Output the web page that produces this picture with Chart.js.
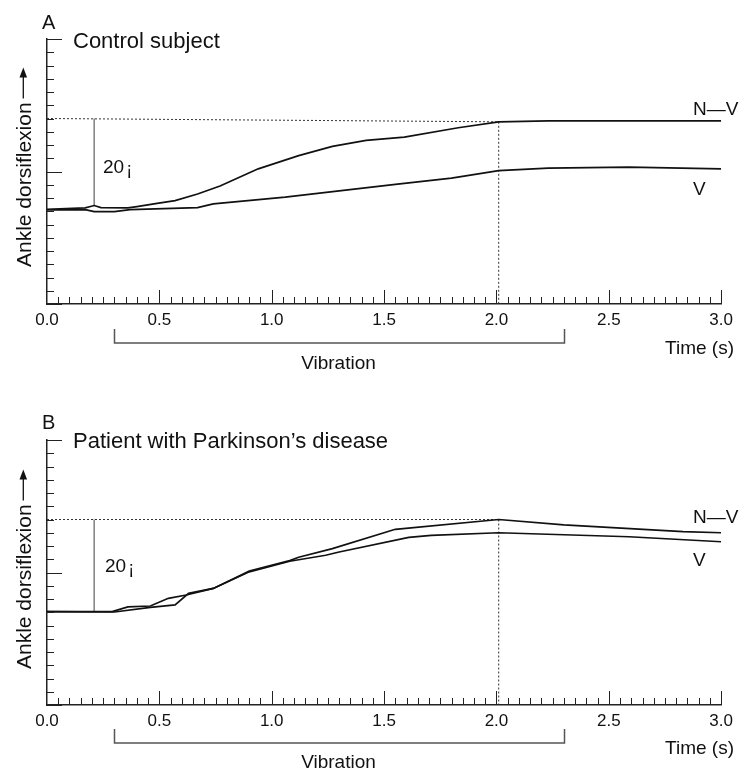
<!DOCTYPE html>
<html>
<head>
<meta charset="utf-8">
<script src="https://cdn.jsdelivr.net/npm/chart.js@4.4.0/dist/chart.umd.min.js"></script>
<style>
  html, body { margin: 0; padding: 0; background: #fff; }
  #wrap { position: relative; width: 739px; height: 772px; }
  canvas { position: absolute; left: 0; }
  #chartA { top: 0; }
  #chartB { top: 401px; }
</style>
</head>
<body>
<div id="wrap">
  <canvas id="chartA" width="739" height="401"></canvas>
  <canvas id="chartB" width="739" height="371"></canvas>
</div>
<script>
// --- data (time in s, ankle angle in axis-tick units) ---
const xTickValues = [0, 0.5, 1.0, 1.5, 2.0, 2.5, 3.0];
const xTickLabels = ['0.0', '0.5', '1.0', '1.5', '2.0', '2.5', '3.0'];

// A: control subject
const tA_nv = [0, 0.17, 0.21, 0.24, 0.36, 0.40, 0.49, 0.57, 0.67, 0.77, 0.94, 1.12, 1.27, 1.42, 1.59, 1.83, 2.01, 2.23, 3.0];
const vA_nv = [7.15, 7.25, 7.43, 7.28, 7.25, 7.35, 7.6, 7.8, 8.3, 8.9, 10.2, 11.2, 11.9, 12.35, 12.6, 13.3, 13.75, 13.82, 13.82];
const tA_v = [0, 0.17, 0.21, 0.30, 0.37, 0.67, 0.74, 1.06, 1.30, 1.56, 1.80, 2.01, 2.23, 2.59, 3.0];
const vA_v = [7.1, 7.12, 6.97, 6.97, 7.12, 7.28, 7.56, 8.06, 8.54, 9.05, 9.5, 10.07, 10.26, 10.33, 10.2];

// B: patient with Parkinson's disease
const tB_nv = [0, 0.29, 0.36, 0.46, 0.54, 0.62, 0.74, 0.90, 1.08, 1.12, 1.27, 1.55, 2.01, 2.30, 2.83, 3.0];
const vB_nv = [7.05, 7.05, 7.4, 7.47, 8.05, 8.3, 8.8, 10.1, 10.9, 11.15, 11.8, 13.26, 14.0, 13.6, 13.08, 13.0];
const tB_v = [0, 0.30, 0.46, 0.57, 0.63, 0.74, 0.90, 1.08, 1.24, 1.30, 1.61, 1.71, 2.01, 2.59, 3.0];
const vB_v = [7.05, 7.02, 7.37, 7.55, 8.43, 8.8, 10.05, 10.85, 11.3, 11.55, 12.65, 12.8, 13.0, 12.7, 12.32];

// dotted guides, 20 deg scale bar, vibration period
const markTime = 2.01;
const guideA = [14.0, 13.75];
const guideB = [14.0, 14.0];
const scaleBarTime = 0.21;
const scaleBarA = [14.0, 7.43];
const scaleBarB = [14.0, 7.05];
const vibration = [0.3, 2.3];

const FONT = '"Liberation Sans", Arial, Helvetica, sans-serif';
const INK = '#111';

function pts(ts, vs) {
  return ts.map((t, i) => ({ x: t, y: vs[i] }));
}

// ticks drawn inward, texts, bracket, y title
const panelDecor = {
  id: 'panelDecor',
  afterDraw(chart, args, o) {
    const ctx = chart.ctx;
    const xs = chart.scales.x, ys = chart.scales.y;
    const area = chart.chartArea;
    ctx.save();

    // inward ticks
    ctx.strokeStyle = '#222';
    ctx.lineWidth = 1;
    ctx.beginPath();
    for (let i = 1; i <= 60; i++) {
      const px = Math.round(xs.getPixelForValue(i * 0.05)) + 0.5;
      const len = i % 10 === 0 ? 14 : 7;
      ctx.moveTo(px, area.bottom);
      ctx.lineTo(px, area.bottom - len);
    }
    for (let j = 0; j <= 20; j++) {
      const py = Math.round(ys.getPixelForValue(j)) + 0.5;
      const len = j % 10 === 0 ? 15 : 7;
      ctx.moveTo(area.left, py);
      ctx.lineTo(area.left + len, py);
    }
    ctx.stroke();

    // vibration bracket
    const bx0 = Math.round(xs.getPixelForValue(vibration[0])) + 0.5;
    const bx1 = Math.round(xs.getPixelForValue(vibration[1])) + 0.5;
    ctx.strokeStyle = '#555';
    ctx.lineWidth = 1.5;
    ctx.beginPath();
    ctx.moveTo(bx0, o.bracketTop);
    ctx.lineTo(bx0, o.bracketBottom);
    ctx.lineTo(bx1, o.bracketBottom);
    ctx.lineTo(bx1, o.bracketTop);
    ctx.stroke();

    ctx.fillStyle = INK;
    ctx.textBaseline = 'alphabetic';

    // panel letter + title
    ctx.textAlign = 'left';
    ctx.font = '20px ' + FONT;
    ctx.fillText(o.letter, 42, o.letterY);
    ctx.font = '22px ' + FONT;
    ctx.fillText(o.title, 73, o.titleY);

    // trace labels
    ctx.font = '19px ' + FONT;
    o.labels.forEach(l => ctx.fillText(l.text, l.x, l.y));

    // 20 deg scale label
    ctx.font = '19px ' + FONT;
    ctx.fillText('20', o.scaleText[0], o.scaleText[1]);
    const w20 = ctx.measureText('20').width;
    ctx.font = '18px ' + FONT;
    ctx.fillText('¡', o.scaleText[0] + w20 + 2, o.scaleText[1] + 2);

    // axis texts
    ctx.font = '19px ' + FONT;
    ctx.textAlign = 'right';
    ctx.fillText('Time (s)', 734, o.timeY);
    ctx.textAlign = 'center';
    ctx.fillText('Vibration', (bx0 + bx1) / 2 - 1, o.vibY);

    // y title with arrow
    ctx.save();
    ctx.translate(31, o.yTitleBase);
    ctx.rotate(-Math.PI / 2);
    ctx.textAlign = 'left';
    ctx.font = '21px ' + FONT;
    const label = 'Ankle dorsiflexion';
    ctx.fillText(label, 0, 0);
    const w = ctx.measureText(label).width;
    ctx.strokeStyle = INK;
    ctx.lineWidth = 1.3;
    ctx.beginPath();
    ctx.moveTo(w + 4, -7.7);
    ctx.lineTo(w + 27, -7.7);
    ctx.stroke();
    ctx.beginPath();
    ctx.moveTo(w + 35, -7.7);
    ctx.lineTo(w + 25, -11.5);
    ctx.lineTo(w + 25, -3.9);
    ctx.closePath();
    ctx.fill();
    ctx.restore();

    ctx.restore();
  }
};

function makeChart(id, canvasH, series, guide, scaleBar, decor) {
  const trace = {
    type: 'line', pointRadius: 0, tension: 0,
    borderColor: INK, borderWidth: 1.7, fill: false
  };
  const dotted = {
    type: 'line', pointRadius: 0, tension: 0,
    borderColor: '#333', borderWidth: 1, borderDash: [2, 2], fill: false
  };
  return new Chart(document.getElementById(id), {
    type: 'line',
    data: {
      datasets: [
        { ...trace, label: 'N-V', data: pts(series[0], series[1]) },
        { ...trace, label: 'V', data: pts(series[2], series[3]) },
        { ...dotted, label: 'guide', data: pts([0, markTime], guide) },
        { ...dotted, label: 'mark', data: pts([markTime, markTime], [guide[1], 0]) },
        {
          type: 'line', label: 'scale', pointRadius: 0, borderColor: '#888', borderWidth: 1.6,
          data: pts([scaleBarTime, scaleBarTime], scaleBar)
        }
      ]
    },
    options: {
      responsive: false,
      animation: false,
      events: [],
      layout: { padding: { left: 0, top: 39, right: 13, bottom: canvasH - 304 - 30 } },
      plugins: {
        legend: { display: false },
        tooltip: { enabled: false },
        panelDecor: decor
      },
      scales: {
        x: {
          type: 'linear', min: 0, max: 3,
          afterFit: s => { s.height = 30; },
          afterBuildTicks: s => { s.ticks = xTickValues.map(v => ({ value: v })); },
          grid: { display: false, drawTicks: false },
          border: { display: true, color: '#222', width: 1.5 },
          ticks: {
            padding: 6, maxRotation: 0, autoSkip: false, color: INK,
            font: { family: FONT, size: 17 },
            callback: (v, i) => xTickLabels[i]
          }
        },
        y: {
          type: 'linear', min: 0, max: 20,
          afterFit: s => { s.width = 47; },
          grid: { display: false, drawTicks: false },
          border: { display: true, color: '#222', width: 1.5 },
          ticks: { display: false }
        }
      }
    },
    plugins: [panelDecor]
  });
}

makeChart('chartA', 401, [tA_nv, vA_nv, tA_v, vA_v], guideA, scaleBarA, {
  letter: 'A', letterY: 28.5, title: 'Control subject', titleY: 47.5,
  labels: [{ text: 'N\u2014V', x: 693, y: 115 }, { text: 'V', x: 693, y: 195 }],
  scaleText: [103, 172.5],
  bracketTop: 329, bracketBottom: 343, timeY: 354, vibY: 369, yTitleBase: 267
});

makeChart('chartB', 371, [tB_nv, vB_nv, tB_v, vB_v], guideB, scaleBarB, {
  letter: 'B', letterY: 27.5, title: 'Patient with Parkinson\u2019s disease', titleY: 47.3,
  labels: [{ text: 'N\u2014V', x: 693, y: 121.7 }, { text: 'V', x: 693, y: 165 }],
  scaleText: [105, 170.7],
  bracketTop: 328, bracketBottom: 342, timeY: 353, vibY: 367, yTitleBase: 268
});
</script>
</body>
</html>
